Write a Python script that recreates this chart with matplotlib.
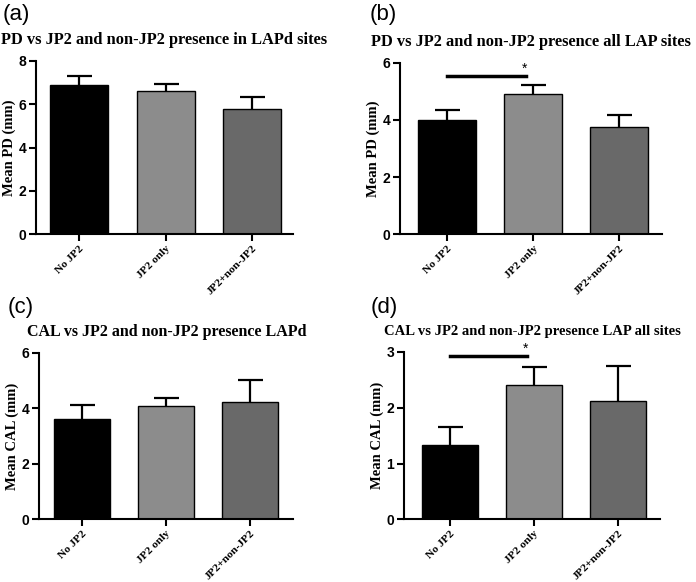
import numpy as np
import matplotlib.pyplot as plt

groups = ["No JP2", "JP2 only", "JP2+non-JP2"]
bar_colors = ["#000000", "#8c8c8c", "#696969"]

# (a) PD, LAPd sites
pd_lapd = [6.88, 6.63, 5.80]
pd_lapd_err = [0.41, 0.31, 0.53]
# (b) PD, all LAP sites
pd_all = [4.00, 4.91, 3.76]
pd_all_err = [0.35, 0.31, 0.40]
# (c) CAL, LAPd
cal_lapd = [3.62, 4.08, 4.23]
cal_lapd_err = [0.48, 0.30, 0.77]
# (d) CAL, all LAP sites
cal_all = [1.33, 2.41, 2.12]
cal_all_err = [0.32, 0.32, 0.63]

W, H = 696, 582

panels = [
    ("(a)", "PD vs JP2 and non-JP2 presence in LAPd sites", 11.8, "Mean PD (mm)",
     pd_lapd, pd_lapd_err, [0, 2, 4, 6, 8], None,
     [36/W, 1-234/H, 257/W, 173/H], (-0.50, 2.47), (3, 4)),
    ("(b)", "PD vs JP2 and non-JP2 presence all LAP sites", 11.8, "Mean PD (mm)",
     pd_all, pd_all_err, [0, 2, 4, 6], 5.53,
     [400/W, 1-234.3/H, 262/W, 171.6/H], (-0.55, 2.50), (370, 4)),
    ("(c)", "CAL vs JP2 and non-JP2 presence LAPd", 11.5, "Mean CAL (mm)",
     cal_lapd, cal_lapd_err, [0, 2, 4, 6], None,
     [39.3/W, 1-519.3/H, 254/W, 166.6/H], (-0.51, 2.52), (8, 297)),
    ("(d)", "CAL vs JP2 and non-JP2 presence LAP all sites", 10.5, "Mean CAL (mm)",
     cal_all, cal_all_err, [0, 1, 2, 3], 2.92,
     [404/W, 1-519.3/H, 256.3/W, 167.3/H], (-0.55, 2.51), (371, 297)),
]

fig = plt.figure(figsize=(6.96, 5.82), dpi=100)
x = np.arange(len(groups))

for tag, title, tsize, ylab, vals, errs, yt, sig, pos, xl, tagpos in panels:
    ax = fig.add_axes(pos)
    ax.bar(x, vals, width=0.67, color=bar_colors, edgecolor="black", linewidth=1.0, zorder=2)
    # symmetric bars drawn behind the columns, so only the upper half shows
    ax.errorbar(x, vals, yerr=errs, fmt="none", ecolor="black",
                elinewidth=1.6, capsize=9, capthick=1.6, zorder=1)
    ax.set_xlim(*xl)
    ax.set_ylim(0, yt[-1])
    ax.set_yticks(yt)
    ax.set_xticks(x)
    ax.set_xticklabels(groups, rotation=45, ha="right", rotation_mode="anchor",
                       family="Liberation Serif", fontweight="bold", fontsize=8.2)
    for lab in ax.get_yticklabels():
        lab.set_family("Liberation Sans")
        lab.set_fontweight("bold")
        lab.set_fontsize(10)
    ax.spines["top"].set_visible(False)
    ax.spines["right"].set_visible(False)
    ax.spines["left"].set_linewidth(1.5)
    ax.spines["bottom"].set_linewidth(1.5)
    ax.tick_params(direction="out", length=5, width=1.5, pad=2)
    ax.set_ylabel(ylab, family="Liberation Serif", fontweight="bold", fontsize=10.5, labelpad=2)
    ax.set_title(title, family="Liberation Serif", fontweight="bold", fontsize=tsize, pad=12)
    if sig is not None:
        ax.plot([0, 0.92], [sig, sig], color="black", linewidth=2.5, clip_on=False)
        ax.text(0.9, sig + yt[-1] * 0.005, "*", ha="center", va="bottom", fontsize=10,
                family="Liberation Sans", clip_on=False)
    fig.text(tagpos[0]/W, 1 - tagpos[1]/H, tag, fontsize=16,
             family="Liberation Sans", va="top", ha="left")

fig.savefig("out.png", dpi=100)
